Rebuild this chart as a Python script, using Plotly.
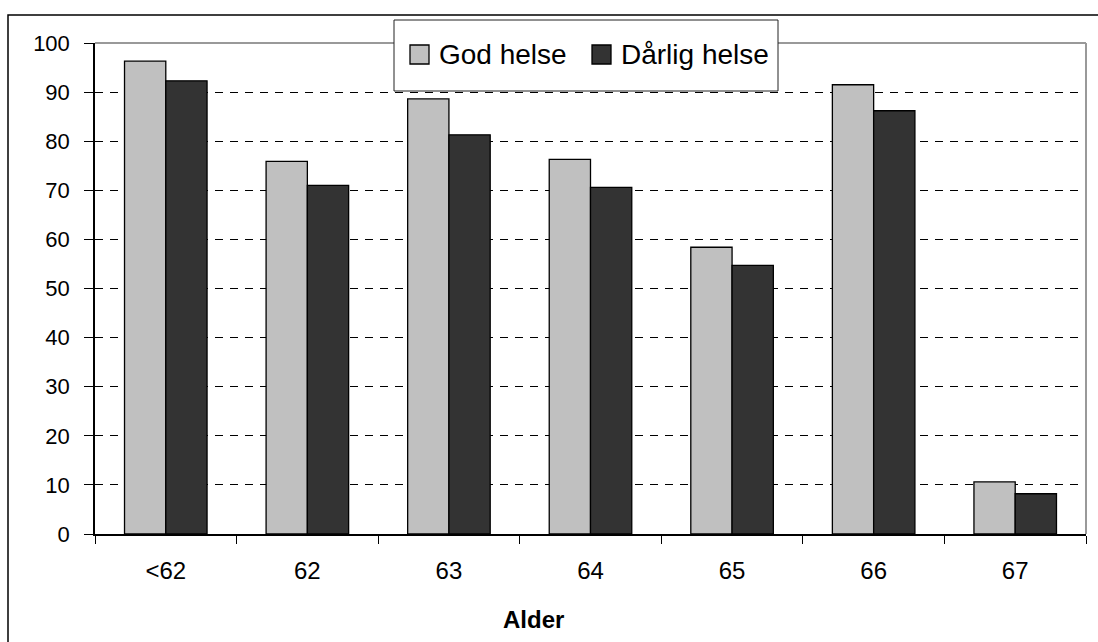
import plotly.graph_objects as go

# Age groups and share (%) by self-reported health
ages = ["<62", "62", "63", "64", "65", "66", "67"]
series_names = ["God helse", "Dårlig helse"]
god_helse = [96.3, 75.9, 88.6, 76.3, 58.4, 91.5, 10.6]
darlig_helse = [92.3, 71.0, 81.3, 70.6, 54.7, 86.2, 8.2]
y_ticks = [0, 10, 20, 30, 40, 50, 60, 70, 80, 90, 100]
x_title = "Alder"

W, H = 1098, 642
L, R, T, B = 95, 12, 43, 108
PW, PH = W - L - R, H - T - B

COLORS = ["#C0C0C0", "#333333"]
FONT = "Liberation Sans, Arial, sans-serif"


def px(x):
    return (x - L) / PW


def py(y):
    return (H - B - y) / PH


fig = go.Figure()
for name, vals, col in zip(series_names, [god_helse, darlig_helse], COLORS):
    fig.add_trace(go.Bar(
        x=ages, y=vals, name=name,
        marker=dict(color=col, line=dict(color="black", width=1.3)),
        showlegend=False,
    ))

shapes = [
    # outer chart frame
    dict(type="rect", xref="paper", yref="paper",
         x0=px(8), x1=px(W + 20), y0=py(H + 20), y1=py(15),
         line=dict(color="black", width=1.5), layer="above"),
    # gray plot border (top and right)
    dict(type="line", xref="paper", yref="paper", x0=0, x1=1, y0=1, y1=1,
         line=dict(color="#999999", width=2), layer="above"),
    dict(type="line", xref="paper", yref="paper", x0=1, x1=1, y0=0, y1=1,
         line=dict(color="#999999", width=2), layer="above"),
    # legend box
    dict(type="rect", xref="paper", yref="paper",
         x0=px(394), x1=px(778), y0=py(91), y1=py(20),
         line=dict(color="#222222", width=1), fillcolor="white", layer="above"),
]

annotations = [
    dict(text=f"<b>{x_title}</b>", xref="paper", yref="paper",
         x=px(533), y=py(619), showarrow=False,
         font=dict(family=FONT, size=24, color="black"),
         xanchor="center", yanchor="middle"),
]

# legend entries
for name, col, sx, tx in zip(series_names, COLORS, [410, 592], [437, 619]):
    shapes.append(dict(type="rect", xref="paper", yref="paper",
                       x0=px(sx), x1=px(sx + 19), y0=py(64), y1=py(45),
                       fillcolor=col, line=dict(color="black", width=1.3),
                       layer="above"))
    annotations.append(dict(text=name, xref="paper", yref="paper",
                            x=px(tx), y=py(54), showarrow=False,
                            font=dict(family=FONT, size=28, color="black"),
                            xanchor="left", yanchor="middle"))

fig.update_layout(
    width=W, height=H,
    margin=dict(l=L, r=R, t=T, b=B),
    paper_bgcolor="white", plot_bgcolor="white",
    barmode="group", bargap=0.417, bargroupgap=0,
    font=dict(family=FONT, color="black"),
    shapes=shapes, annotations=annotations,
)
fig.update_xaxes(
    type="category", showgrid=False, showline=True,
    linecolor="black", linewidth=1.5,
    ticks="outside", tickson="boundaries", ticklen=8,
    tickcolor="black", tickwidth=1,
    tickfont=dict(size=24, family=FONT, color="black"),
    ticklabelstandoff=14,
)
fig.update_yaxes(
    range=[0, 100], tickvals=y_ticks, showline=True,
    linecolor="black", linewidth=1.5,
    ticks="outside", ticklen=9, tickcolor="black", tickwidth=1,
    showgrid=True, gridcolor="black", gridwidth=1, griddash="8px,7px",
    zeroline=False,
    tickfont=dict(size=22, family=FONT, color="black"),
    ticklabelstandoff=10,
)

fig.write_html("out.html")
